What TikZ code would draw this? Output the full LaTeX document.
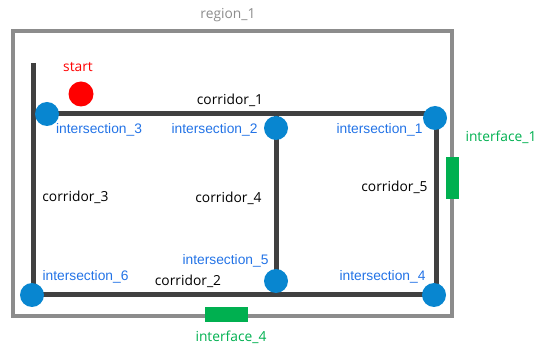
\documentclass[tikz,border=0pt]{standalone}
\usepackage{fontspec}
\setmainfont{Open Sans}
\newfontfamily\isecfont{Liberation Sans}
\usetikzlibrary{positioning}
\definecolor{corrgray}{RGB}{64,64,64}
\definecolor{boxgray}{RGB}{140,140,140}
\definecolor{isecblue}{RGB}{8,134,208}
\definecolor{labelblue}{RGB}{35,115,230}
\definecolor{ifgreen}{RGB}{0,176,80}

\begin{document}
\begin{tikzpicture}[x=1pt,y=-1pt,
  corridor/.style={corrgray, line width=5pt},
  isec/.style={circle, fill=isecblue, minimum size=24pt, inner sep=0pt},
  iface/.style={rectangle, fill=ifgreen, inner sep=0pt},
  txt/.style={font=\fontsize{13.8}{16}\selectfont, inner sep=0pt},
  iseclabel/.style={text=labelblue, font=\isecfont\fontsize{13.8}{16}\selectfont, inner sep=0pt}
  ]
\useasboundingbox (0,0) rectangle (541,347);

%\draw[gray,very thin, step=20pt, opacity=0.5] (0,0) grid (541,347);

% region
\draw[boxgray, line width=3.5pt] (13,31) rectangle (452,316);
\node[txt, text=boxgray] (regionlabel) at (228,15) {region\_1};

% corridor corners
\coordinate (c3top) at (33,63);
\coordinate (nw) at (33,114);
\coordinate (n4) at (276,114);
\coordinate (ne) at (436,114);
\coordinate (sw) at (33,295);
\coordinate (s4) at (276,295);
\coordinate (se) at (436,295);

\draw[corridor] (c3top) -- (sw);
\draw[corridor] (nw) -- (ne);
\draw[corridor] (n4) -- (s4);
\draw[corridor] (ne) -- (se);
\draw[corridor] (sw) -- (se);

\node[txt] (corr1) at (230,100) {corridor\_1};
\node[txt] (corr2) at (188,281) {corridor\_2};
\node[txt] (corr3) at (75.5,197) {corridor\_3};
\node[txt] (corr4) at (228.5,198) {corridor\_4};
\node[txt] (corr5) at (394.5,187) {corridor\_5};

% interfaces
\node[iface, minimum width=13pt, minimum height=42pt] (if1) at (452.5,178) {};
\node[iface, minimum width=43pt, minimum height=15pt] (if4) at (226.5,314.5) {};
\node[txt, text=ifgreen] (if1label) at (501,137) {interface\_1};
\node[txt, text=ifgreen] (if4label) at (231,337) {interface\_4};

% start
\node[circle, fill=red, minimum size=25pt, inner sep=0pt] (start) at (81,94) {};
\node[txt, text=red] (startlabel) at (78,67) {start};

% intersections
\node[isec] (i1) at (435,118) {};
\node[isec] (i2) at (276,128) {};
\node[isec] (i3) at (47,114) {};
\node[isec] (i4) at (434,295) {};
\node[isec] (i5) at (276,281) {};
\node[isec] (i6) at (32,295) {};

\node[iseclabel] (i1label) at (379.5,130) {intersection\_1};
\node[iseclabel] (i2label) at (214.5,130) {intersection\_2};
\node[iseclabel] (i3label) at (99,130) {intersection\_3};
\node[iseclabel] (i4label) at (382.5,277) {intersection\_4};
\node[iseclabel] (i5label) at (225.5,261) {intersection\_5};
\node[iseclabel] (i6label) at (85.5,277) {intersection\_6};

\end{tikzpicture}
\end{document}
